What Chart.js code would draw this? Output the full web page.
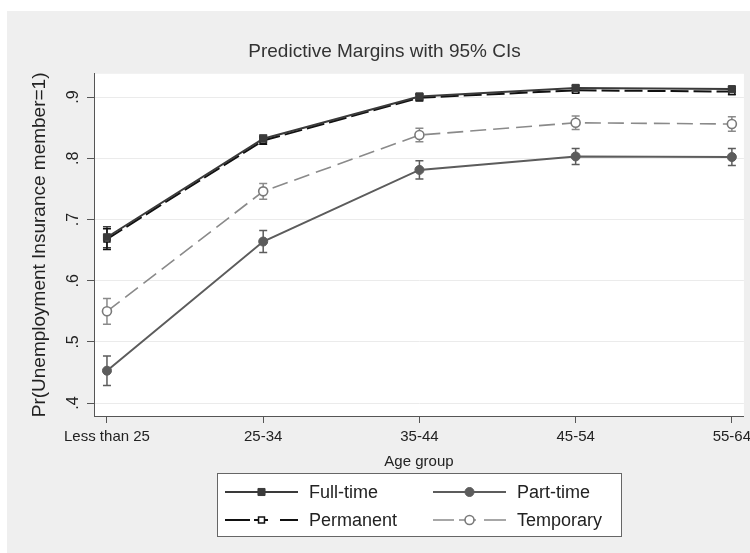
<!DOCTYPE html>
<html>
<head>
<meta charset="utf-8">
<script src="https://cdn.jsdelivr.net/npm/chart.js@4.4.1/dist/chart.umd.min.js"></script>
<style>
  body { margin: 0; background: #fff; }
</style>
</head>
<body>
<canvas id="MarginsChart" width="750" height="553"></canvas>
<script>
const ageGroups = ['Less than 25', '25-34', '35-44', '45-54', '55-64'];

const fullTime = [0.671, 0.832, 0.901, 0.915, 0.913];
const fullTimeCI = [0.017, 0.006, 0.005, 0.004, 0.004];

const partTime = [0.453, 0.664, 0.781, 0.803, 0.802];
const partTimeCI = [0.024, 0.018, 0.015, 0.013, 0.014];

const permanent = [0.668, 0.829, 0.899, 0.911, 0.909];
const permanentCI = [0.017, 0.006, 0.005, 0.004, 0.005];

const temporary = [0.550, 0.746, 0.838, 0.858, 0.856];
const temporaryCI = [0.021, 0.013, 0.011, 0.011, 0.012];

const yTicks = [0.4, 0.5, 0.6, 0.7, 0.8, 0.9];

Chart.defaults.font.family = '"Liberation Sans", Arial, sans-serif';
Chart.defaults.color = '#222';

function toPoints(values) {
    return values.map((v, i) => ({ x: i, y: v }));
}

// gray page, white plot region
const backgroundPlugin = {
    id: 'stataBackground',
    beforeDraw(chart) {
        const { ctx, chartArea } = chart;
        ctx.save();
        ctx.fillStyle = '#ffffff';
        ctx.fillRect(0, 0, chart.width, chart.height);
        ctx.fillStyle = '#efefef';
        ctx.fillRect(7, 11, chart.width - 7, chart.height - 11);
        ctx.fillStyle = '#ffffff';
        ctx.fillRect(chartArea.left, chartArea.top, chartArea.right - chartArea.left, chartArea.bottom - chartArea.top);
        ctx.restore();
    }
};

// 95% CI whiskers, drawn under the lines
const errorBarPlugin = {
    id: 'errorBars',
    beforeDatasetsDraw(chart) {
        const { ctx, scales: { x, y } } = chart;
        ctx.save();
        chart.data.datasets.forEach(ds => {
            ctx.strokeStyle = ds.borderColor;
            ctx.lineWidth = 1.5;
            ctx.setLineDash([]);
            ds.data.forEach((p, i) => {
                const px = x.getPixelForValue(p.x);
                const top = y.getPixelForValue(p.y + ds.ci[i]);
                const bot = y.getPixelForValue(p.y - ds.ci[i]);
                ctx.beginPath();
                ctx.moveTo(px, top);
                ctx.lineTo(px, bot);
                ctx.moveTo(px - 4, top);
                ctx.lineTo(px + 4, top);
                ctx.moveTo(px - 4, bot);
                ctx.lineTo(px + 4, bot);
                ctx.stroke();
            });
        });
        ctx.restore();
    }
};

// boxed two-column legend below the x axis
const legendPlugin = {
    id: 'stataLegend',
    afterDraw(chart) {
        const { ctx } = chart;
        const boxLeft = 217, boxTop = 473, boxW = 404, boxH = 63;
        const colX = [225, 433];
        const rowY = [492, 520];
        const lineLen = 73;
        ctx.save();
        ctx.fillStyle = '#ffffff';
        ctx.fillRect(boxLeft, boxTop, boxW, boxH);
        ctx.strokeStyle = '#666';
        ctx.lineWidth = 1;
        ctx.strokeRect(boxLeft + 0.5, boxTop + 0.5, boxW, boxH);

        chart.data.datasets.forEach((ds, i) => {
            const x0 = colX[i % 2];
            const y0 = rowY[Math.floor(i / 2)];
            ctx.strokeStyle = ds.borderColor;
            ctx.lineWidth = ds.borderWidth;
            ctx.setLineDash(ds.legendDash || []);
            ctx.beginPath();
            ctx.moveTo(x0, y0);
            ctx.lineTo(x0 + lineLen, y0);
            ctx.stroke();
            ctx.setLineDash([]);
            ctx.fillStyle = ds.pointBackgroundColor;
            ctx.strokeStyle = ds.pointBorderColor;
            ctx.lineWidth = ds.pointBorderWidth;
            Chart.helpers.drawPoint(ctx, {
                pointStyle: ds.pointStyle,
                radius: ds.pointRadius,
                borderWidth: ds.pointBorderWidth,
                rotation: 0
            }, x0 + lineLen / 2, y0);

            ctx.fillStyle = '#222';
            ctx.font = '18px "Liberation Sans", Arial, sans-serif';
            ctx.textBaseline = 'middle';
            ctx.textAlign = 'left';
            ctx.fillText(ds.label, x0 + 84, y0 + 1);
        });
        ctx.restore();
    }
};

const data = {
    datasets: [{
        label: 'Full-time',
        data: toPoints(fullTime),
        ci: fullTimeCI,
        borderColor: '#3a3a3a',
        borderWidth: 2,
        pointStyle: 'rect',
        pointRadius: 5,
        pointBackgroundColor: '#3a3a3a',
        pointBorderColor: '#3a3a3a',
        pointBorderWidth: 1
    }, {
        label: 'Part-time',
        data: toPoints(partTime),
        ci: partTimeCI,
        borderColor: '#5c5c5c',
        borderWidth: 2,
        pointStyle: 'circle',
        pointRadius: 4.5,
        pointBackgroundColor: '#5c5c5c',
        pointBorderColor: '#5c5c5c',
        pointBorderWidth: 1
    }, {
        label: 'Permanent',
        data: toPoints(permanent),
        ci: permanentCI,
        borderColor: '#111111',
        borderWidth: 2,
        borderDash: [18, 5],
        legendDash: [25, 4, 14, 12, 18],
        pointStyle: 'rect',
        pointRadius: 4.2,
        pointBackgroundColor: '#ffffff',
        pointBorderColor: '#111111',
        pointBorderWidth: 1.5
    }, {
        label: 'Temporary',
        data: toPoints(temporary),
        ci: temporaryCI,
        borderColor: '#8a8a8a',
        borderWidth: 1.6,
        borderDash: [16, 7],
        legendDash: [21, 5, 17, 8, 22],
        pointStyle: 'circle',
        pointRadius: 4.5,
        pointBackgroundColor: '#ffffff',
        pointBorderColor: '#7a7a7a',
        pointBorderWidth: 1.6
    }]
};

const config = {
    type: 'line',
    data: data,
    plugins: [backgroundPlugin, errorBarPlugin, legendPlugin],
    options: {
        responsive: false,
        animation: false,
        layout: {
            padding: { left: 24, right: 5, top: 11, bottom: 77 }
        },
        elements: {
            line: { tension: 0, fill: false }
        },
        scales: {
            x: {
                type: 'linear',
                min: -0.083,
                max: 4.077,
                afterBuildTicks: scale => {
                    scale.ticks = ageGroups.map((g, i) => ({ value: i }));
                },
                afterFit: scale => {
                    scale.height = 60;
                    scale.paddingLeft = 0;
                    scale.paddingRight = 0;
                },
                ticks: {
                    callback: v => ageGroups[Math.round(v)],
                    font: { size: 15 },
                    color: '#222',
                    padding: 5,
                    maxRotation: 0,
                    autoSkip: false
                },
                grid: {
                    drawOnChartArea: false,
                    tickLength: 7,
                    tickColor: '#555'
                },
                border: { color: '#555', width: 1 },
                title: {
                    display: true,
                    text: 'Age group',
                    font: { size: 15 },
                    color: '#222',
                    padding: { top: 0, bottom: 5 }
                }
            },
            y: {
                min: 0.379,
                max: 0.938,
                afterBuildTicks: scale => {
                    scale.ticks = yTicks.map(v => ({ value: v }));
                },
                afterFit: scale => {
                    scale.width = 70;
                    scale.paddingTop = 0;
                    scale.paddingBottom = 0;
                },
                ticks: {
                    callback: v => v.toFixed(1).replace(/^0/, ''),
                    font: { size: 16 },
                    color: '#222',
                    padding: 7,
                    minRotation: 90,
                    maxRotation: 90,
                    crossAlign: 'center'
                },
                grid: {
                    color: '#ebebeb',
                    tickLength: 7,
                    tickColor: '#555'
                },
                border: { color: '#555', width: 1 },
                title: {
                    display: true,
                    text: 'Pr(Unemployment Insurance member=1)',
                    font: { size: 19 },
                    color: '#222',
                    padding: { top: 4, bottom: 0 }
                }
            }
        },
        plugins: {
            legend: { display: false },
            tooltip: { enabled: false },
            title: {
                display: true,
                text: 'Predictive Margins with 95% CIs',
                font: { size: 19, weight: 'normal' },
                color: '#333',
                padding: { top: 29, bottom: 11 }
            }
        }
    }
};

new Chart(document.getElementById('MarginsChart'), config);
</script>
</body>
</html>
